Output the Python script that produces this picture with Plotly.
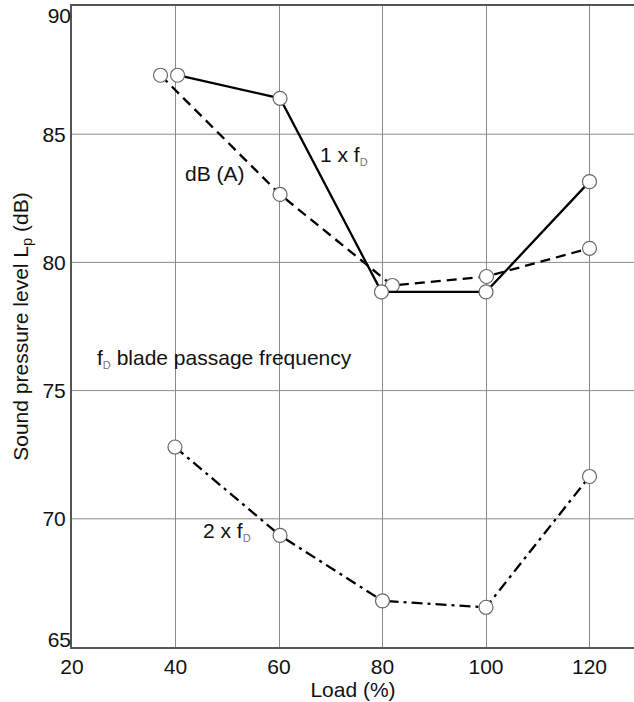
import plotly.graph_objects as go

# Data
load_1x = [40.4, 60.2, 79.8, 100, 120]
spl_1x = [87.3, 86.4, 78.85, 78.85, 83.15]

load_dba = [37.1, 60.2, 81.9, 100.1, 120]
spl_dba = [87.3, 82.65, 79.1, 79.45, 80.55]

load_2x = [39.9, 60.2, 80, 100, 120]
spl_2x = [72.8, 69.35, 66.8, 66.55, 71.65]

x_ticks = [20, 40, 60, 80, 100, 120]
y_ticks_mid = [70, 75, 80, 85]
y_tick_top = [90]
y_tick_bottom = [65]
y_grid = [65, 70, 75, 80, 85, 90]

FONT = "Liberation Sans, Arial, Helvetica, sans-serif"
FS = 21
marker = dict(symbol="circle", size=14, color="white", line=dict(color="#666666", width=1.2))

fig = go.Figure()
fig.add_trace(go.Scatter(x=load_dba, y=spl_dba, mode="lines+markers",
                         line=dict(color="black", width=2.3, dash="10px,6px"), marker=marker))
fig.add_trace(go.Scatter(x=load_1x, y=spl_1x, mode="lines+markers",
                         line=dict(color="black", width=2.3), marker=marker))
fig.add_trace(go.Scatter(x=load_2x, y=spl_2x, mode="lines+markers",
                         line=dict(color="black", width=2.3, dash="11px,5px,3px,5px"), marker=marker))
# anchor traces for the overlay tick-label axes
fig.add_trace(go.Scatter(x=[None], y=[None], yaxis="y2", showlegend=False, hoverinfo="skip"))
fig.add_trace(go.Scatter(x=[None], y=[None], yaxis="y3", showlegend=False, hoverinfo="skip"))

sub = "<sub><span style='font-size:11px;color:#777'>D</span></sub>"
ann = [
    dict(x=67.5, y=84.15, text="1 x f" + sub, xanchor="left"),
    dict(x=47.7, y=83.45, text="dB (A)", xanchor="center"),
    dict(x=24.5, y=76.25, text="f" + sub + " blade passage frequency", xanchor="left"),
    dict(x=50.0, y=69.5, text="2 x f" + sub, xanchor="center"),
]
annotations = []
for a in ann:
    a.update(xref="x", yref="y", showarrow=False, yanchor="middle",
             font=dict(family=FONT, size=FS, color="#111"))
    annotations.append(a)

fig.update_layout(
    width=634, height=702,
    margin=dict(l=72, r=0, t=6, b=55),
    paper_bgcolor="white", plot_bgcolor="white",
    showlegend=False,
    font=dict(family=FONT, size=FS, color="#111"),
    annotations=annotations,
    yaxis2=dict(overlaying="y", matches="y", side="left", tickvals=y_tick_top,
                showgrid=False, showline=False, zeroline=False, ticks="",
                ticklabelshift=10, automargin=False, tickfont=dict(size=FS)),
    yaxis3=dict(overlaying="y", matches="y", side="left", tickvals=y_tick_bottom,
                showgrid=False, showline=False, zeroline=False, ticks="",
                ticklabelshift=-7, automargin=False, tickfont=dict(size=FS)),
)
fig.update_xaxes(range=[20, 128.6], tickvals=x_ticks, ticks="", showgrid=True,
                 gridcolor="#8a8a8a", gridwidth=1, showline=True, linecolor="#555",
                 linewidth=2, mirror=True, zeroline=False, automargin=False,
                 tickfont=dict(size=FS),
                 title=dict(text="Load (%)", standoff=2, font=dict(size=FS)))
fig.update_layout(yaxis=dict(range=[65, 90], tickvals=y_ticks_mid, ticks="", showgrid=False,
                             showline=True, linecolor="#555", linewidth=2, zeroline=False,
                             automargin=False, tickfont=dict(size=FS),
                             title=dict(text="Sound pressure level L<sub>p</sub> (dB)",
                                        standoff=8, font=dict(size=FS))))
# horizontal grid lines at every y grid value
for g in y_grid[1:-1]:
    fig.add_hline(y=g, line=dict(color="#8a8a8a", width=1), layer="below")

fig.write_html("out.html", config={"displayModeBar": False},
               post_script="document.body.style.margin='0';document.body.style.padding='0';")
